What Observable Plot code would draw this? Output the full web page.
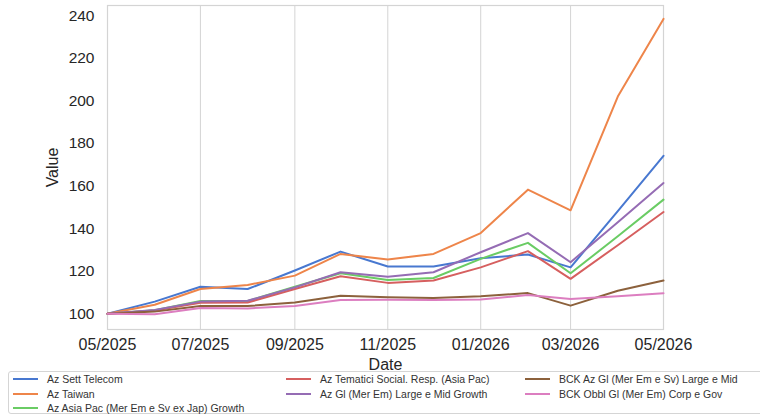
<!DOCTYPE html>
<html>
<head>
<meta charset="utf-8">
<script src="https://cdn.jsdelivr.net/npm/d3@7"></script>
<script src="https://cdn.jsdelivr.net/npm/@observablehq/plot@0.6"></script>
<style>
  html, body { margin: 0; padding: 0; background: #fff; }
  body { width: 760px; height: 416px; overflow: hidden; font-family: "Liberation Sans", Arial, sans-serif; color: #262626; position: relative; }
  #chart { position: absolute; left: 0; top: 0; }
  #legend { position: absolute; left: 8px; top: 371px; width: 770px; height: 43px; border: 1px solid #d5d5d5; border-radius: 3px; box-sizing: border-box; background: #fff; }
  .item { position: absolute; font-size: 10.5px; line-height: 12px; white-space: nowrap; color: #333; }
  .item .sw { position: absolute; left: 0; top: 5px; width: 25px; height: 2px; }
  .item span.t { position: absolute; left: 34px; top: 0; }
</style>
</head>
<body>
<div id="chart"></div>
<div id="legend"></div>
<script>
const months = ["2025-05","2025-06","2025-07","2025-08","2025-09","2025-10","2025-11","2025-12","2026-01","2026-02","2026-03","2026-04","2026-05"];
const seriesNames = [
  "Az Sett Telecom",
  "Az Taiwan",
  "Az Asia Pac (Mer Em e Sv ex Jap) Growth",
  "Az Tematici Social. Resp. (Asia Pac)",
  "Az Gl (Mer Em) Large e Mid Growth",
  "BCK Az Gl (Mer Em e Sv) Large e Mid",
  "BCK Obbl Gl (Mer Em) Corp e Gov"
];
const seriesColors = ["#4878d0","#ee854a","#6acc64","#d65f5f","#956cb4","#8c613c","#dc7ec0"];

const settTelecom   = [100, 105.7, 112.7, 111.6, 120.3, 129.2, 122.2, 122.2, 126.1, 127.8, 121.8, 148.2, 174.2];
const taiwan        = [100, 104.2, 111.6, 113.5, 117.9, 128.1, 125.5, 128.1, 137.9, 158.3, 148.6, 202.0, 238.5];
const asiaPacGrowth = [100, 101.7, 106.0, 106.0, 112.7, 119.0, 115.9, 116.8, 125.8, 133.3, 119.0, 136.4, 153.6];
const tematiciAsia  = [100, 101.5, 105.2, 105.3, 111.6, 117.6, 114.5, 115.6, 121.8, 129.4, 116.4, 132.2, 147.8];
const glMerEmGrowth = [100, 101.8, 105.7, 106.1, 112.4, 119.5, 117.4, 119.5, 128.9, 137.9, 124.2, 143.0, 161.4];
const bckAzGl       = [100, 101.0, 103.6, 103.6, 105.3, 108.5, 107.7, 107.4, 108.2, 109.7, 103.8, 110.8, 115.6];
const bckObblGl     = [100,  99.8, 102.7, 102.5, 103.6, 106.5, 106.6, 106.5, 106.7, 108.8, 106.9, 108.2, 109.6];

const yTicks = [100, 120, 140, 160, 180, 200, 220, 240];

const allSeries = [settTelecom, taiwan, asiaPacGrowth, tematiciAsia, glMerEmGrowth, bckAzGl, bckObblGl];
const parse = d3.utcParse("%Y-%m");
const data = [];
allSeries.forEach((vals, i) => {
  vals.forEach((v, j) => data.push({date: parse(months[j]), value: v, series: seriesNames[i]}));
});

const chart = Plot.plot({
  width: 760,
  height: 380,
  marginLeft: 107,
  marginRight: 97,
  marginTop: 5,
  marginBottom: 51,
  style: {fontFamily: "Liberation Sans, Arial, sans-serif", color: "#262626", background: "#fff"},
  x: {type: "utc", domain: [parse(months[0]), parse(months[months.length - 1])]},
  y: {domain: [92.6, 244.8]},
  color: {domain: seriesNames, range: seriesColors},
  marks: [
    Plot.gridX({ticks: d3.utcMonth.every(2), stroke: "#d4d4d4", strokeOpacity: 1, strokeWidth: 1}),
    Plot.frame({stroke: "#d4d4d4", strokeWidth: 1.2}),
    Plot.axisX({ticks: d3.utcMonth.every(2), tickFormat: d3.utcFormat("%m/%Y"), tickSize: 0, tickPadding: 9, fontSize: 16,
      label: "Date", labelAnchor: "center", labelArrow: "none", labelOffset: 40}),
    Plot.axisY({ticks: yTicks, tickSize: 0, tickPadding: 13, fontSize: 15.5,
      label: "Value", labelAnchor: "center", labelArrow: "none", labelOffset: 61}),
    Plot.lineY(data, {x: "date", y: "value", stroke: "series", strokeWidth: 2, curve: "linear"})
  ]
});
chart.querySelectorAll("[aria-label='x-axis label'] text, [aria-label='y-axis label'] text").forEach(t => t.setAttribute("font-size", "16"));
document.getElementById("chart").appendChild(chart);

const legend = document.getElementById("legend");
const colX = [4, 277, 516];
seriesNames.forEach((name, i) => {
  const col = i < 3 ? 0 : (i < 5 ? 1 : 2);
  const row = i < 3 ? i : (i < 5 ? i - 3 : i - 5);
  const d = document.createElement("div");
  d.className = "item";
  d.style.left = colX[col] + "px";
  d.style.top = (1 + row * 14.5) + "px";
  d.innerHTML = `<div class="sw" style="background:${seriesColors[i]}"></div><span class="t"></span>`;
  d.querySelector(".t").textContent = name;
  legend.appendChild(d);
});
</script>
</body>
</html>
